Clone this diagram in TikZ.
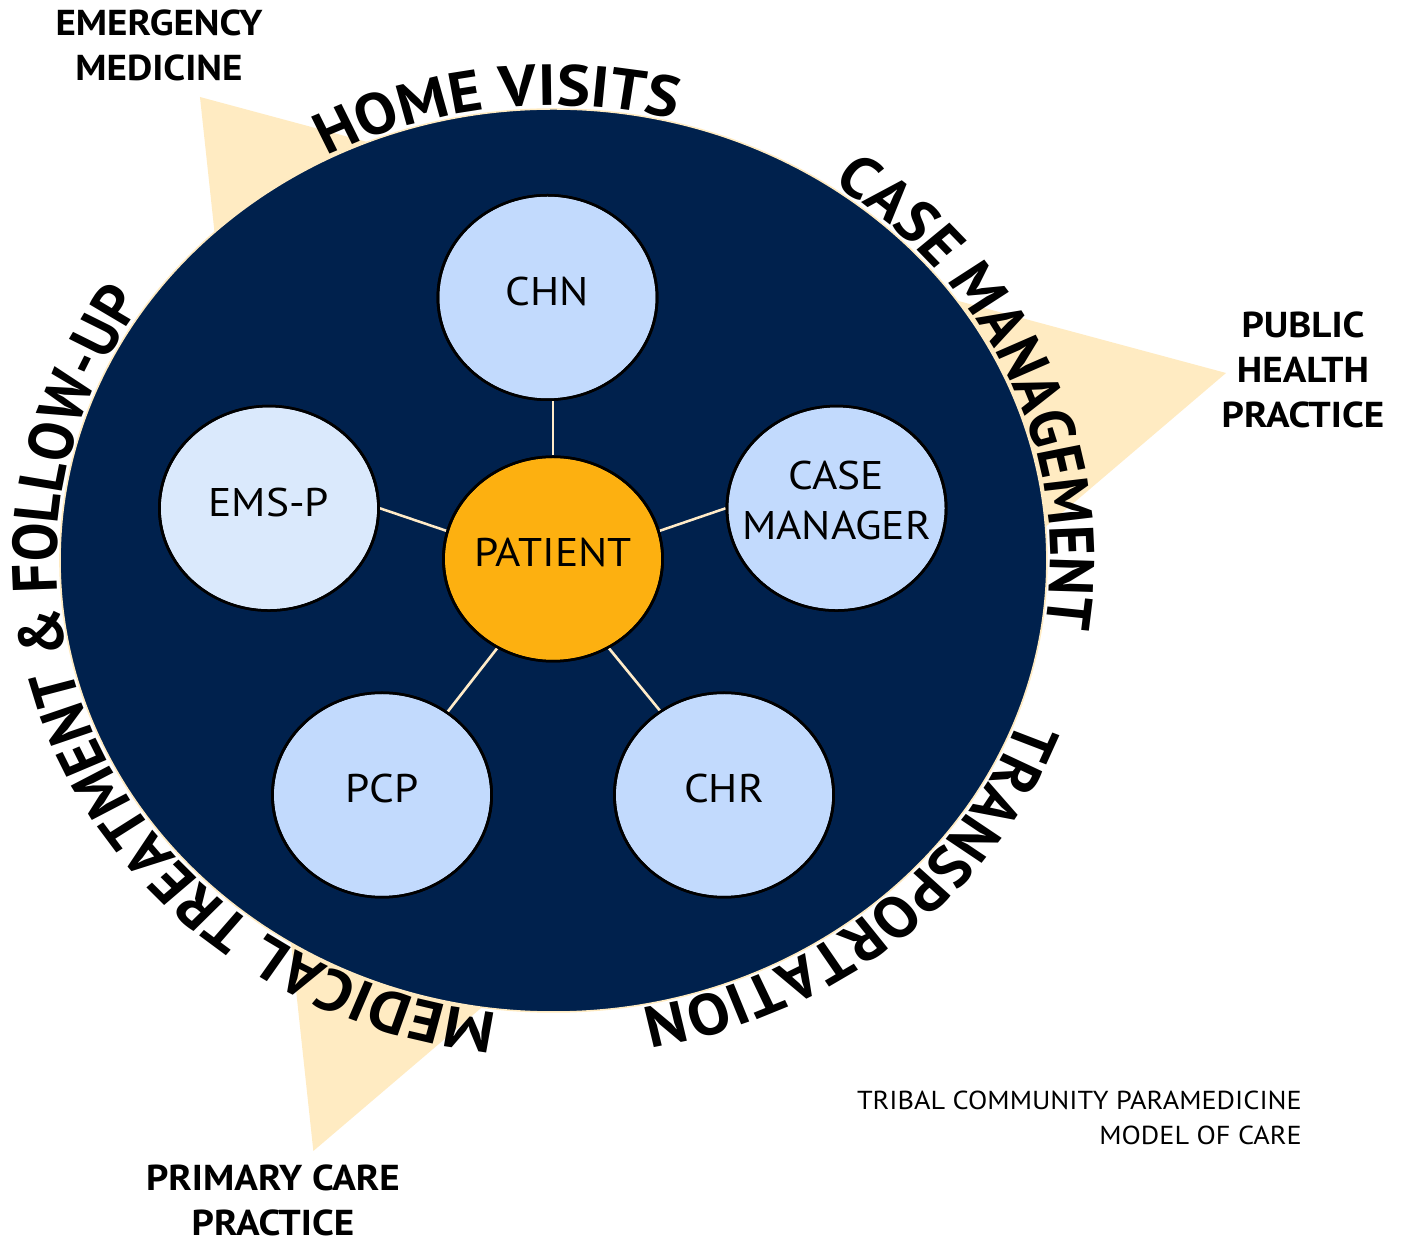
\documentclass[tikz,border=0pt]{standalone}
\usepackage{fontspec}
\setmainfont{PT Sans}
\usetikzlibrary{shapes.geometric,decorations.text}
\definecolor{navy}{RGB}{0,33,77}
\definecolor{patorange}{RGB}{253,176,16}
\definecolor{rolblue}{RGB}{194,218,253}
\definecolor{emsblue}{RGB}{218,233,252}
\definecolor{trifill}{RGB}{255,235,194}
\definecolor{connline}{RGB}{255,235,200}
\newcommand\curvefont{\fontsize{58pt}{64pt}\selectfont\bfseries}
\tikzset{
  role/.style={ellipse, draw=black, line width=2.5pt, fill=rolblue,
    minimum width=202pt, minimum height=204.5pt, inner sep=0pt},
  rolelabel/.style={font=\fontsize{40pt}{50pt}\selectfont, align=center, inner sep=0pt, yshift=6pt},
  conn/.style={draw=connline, line width=2.5pt},
  sidelabel/.style={font=\fontsize{36pt}{45pt}\selectfont\bfseries, align=center, inner sep=0pt, anchor=north},
  curvetext/.style={decorate, decoration={text along path, text align=center, text={|\curvefont|#1}}}
}
\begin{document}
\begin{tikzpicture}[x=1pt,y=1pt]
\useasboundingbox (0,0) rectangle (1414,1237);
\begin{scope}[transform canvas={xscale=1.085}]
  % background triangle
  \fill[trifill] (184.3,1140) -- (1130,864) -- (288.8,86) -- cycle;
  % navy disc
  \coordinate (ctr) at (510.1,676.5);
  \draw[fill=navy, draw=trifill, line width=1.5pt] (ctr) ellipse [x radius=454.8, y radius=451.5];
  % nodes
  \node[role] (chn) at (504.6,939.5) {};
  \node[role, fill=emsblue] (ems) at (247.9,728.7) {};
  \node[role] (cm) at (771.0,728.7) {};
  \node[role, fill=patorange] (pat) at (509.7,678) {};
  \node[role] (pcp) at (352.1,442) {};
  \node[role] (chr) at (667.3,442) {};
  % connectors
  \draw[conn] (pat.north) -- (pat.north |- chn.south);
  \draw[conn] (ems.east) -- (pat.164);
  \draw[conn] (cm.west) -- (pat.16);
  \draw[conn] (pcp.54) -- (pat.-120);
  \draw[conn] (chr.125) -- (pat.-60);
  % redraw borders above connectors
  \node[role, fill=none] at (chn) {};
  \node[role, fill=none] at (ems) {};
  \node[role, fill=none] at (cm) {};
  \node[role, fill=none] at (pat) {};
  \node[role, fill=none] at (pcp) {};
  \node[role, fill=none] at (chr) {};
  % labels
  \node[rolelabel] (chnt) at (chn) {CHN};
  \node[rolelabel] (emst) at (ems) {EMS-P};
  \node[rolelabel, yshift=2pt] (cmt) at (cm) {CASE\\MANAGER};
  \node[rolelabel] (patt) at (pat) {PATIENT};
  \node[rolelabel] (pcpt) at (pcp) {PCP};
  \node[rolelabel] (chrt) at (chr) {CHR};
  % curved texts
  \path[curvetext={HOME VISITS}] (ctr) ++(186.5:458 and 455) arc[start angle=186.5, end angle=6.5, x radius=458, y radius=455];
  \path[curvetext={CASE MANAGEMENT}] (ctr) ++(113.6:458 and 455) arc[start angle=113.6, end angle=-66.4, x radius=458, y radius=455];
  \path[curvetext={TRANSPORTATION}] (ctr) ++(40:458 and 455) arc[start angle=40, end angle=-140, x radius=458, y radius=455];
  \path[curvetext={MEDICAL TREATMENT {\&} FOLLOW-UP}] (ctr) ++(304.4:458 and 455) arc[start angle=304.4, end angle=104.4, x radius=458, y radius=455];
  % outer labels
  \node[sidelabel] (em) at (146.5,1227) {EMERGENCY\\MEDICINE};
  \node[sidelabel] (ph) at (1200.9,925) {PUBLIC\\HEALTH\\PRACTICE};
  \node[sidelabel] (pc) at (251.6,72) {PRIMARY CARE\\PRACTICE};
  \node[font=\fontsize{26pt}{35pt}\selectfont, align=right, inner sep=0pt, anchor=north east] (title) at (1200,146.3) {TRIBAL COMMUNITY PARAMEDICINE\\MODEL OF CARE};
\end{scope}
\end{tikzpicture}
\end{document}
